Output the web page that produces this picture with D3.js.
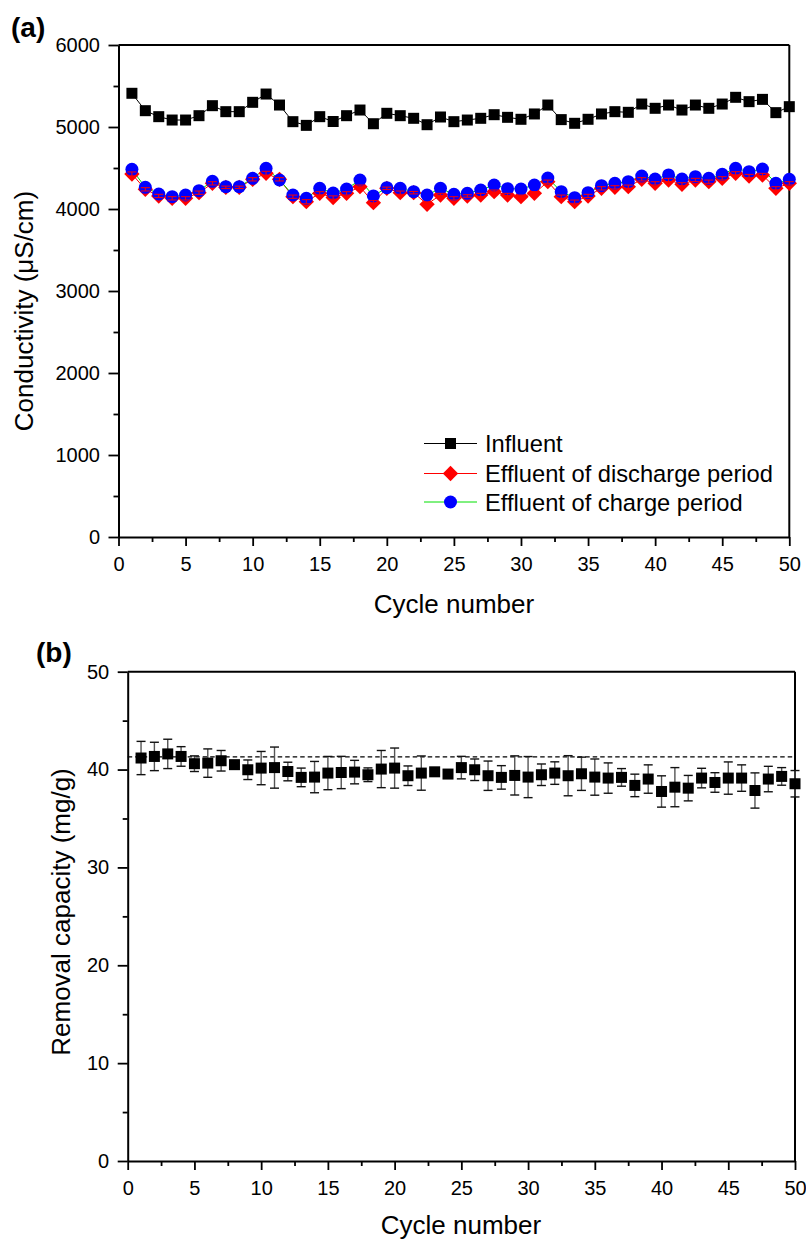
<!DOCTYPE html>
<html><head><meta charset="utf-8">
<script src="https://cdn.jsdelivr.net/npm/d3@7"></script>
<style>body{margin:0;background:#fff;} svg{display:block;font-family:"Liberation Sans",Arial,sans-serif;}</style>
</head><body>
<svg id="c" width="806" height="1245"></svg>
<script>
// ---- Data ----
const cycles = d3.range(1, 51);
const influent = [5411,5199,5126,5085,5085,5138,5260,5187,5187,5301,
                  5402,5268,5065,5020,5126,5067,5138,5207,5040,5167,
                  5138,5106,5028,5122,5065,5085,5106,5150,5118,5094,
                  5159,5268,5090,5045,5094,5159,5187,5179,5280,5228,
                  5268,5207,5268,5228,5280,5362,5309,5337,5175,5248];
const discharge = [4427,4240,4159,4130,4130,4199,4313,4264,4264,4362,
                   4435,4362,4150,4089,4191,4140,4191,4272,4077,4252,
                   4199,4199,4057,4171,4130,4159,4171,4211,4171,4150,
                   4191,4333,4150,4089,4159,4252,4264,4272,4362,4313,
                   4354,4301,4354,4333,4374,4435,4402,4415,4252,4313];
const dischargeErr = [25,20,20,20,20,20,20,15,15,20,
                      25,20,20,25,20,20,20,20,25,15,
                      20,15,25,20,20,15,20,20,20,20,
                      20,20,20,20,20,20,20,20,20,20,
                      20,20,20,20,20,20,20,20,20,20];
const charge = [4484,4264,4183,4150,4171,4224,4337,4272,4272,4374,
                4496,4354,4171,4130,4252,4195,4244,4354,4159,4260,
                4252,4211,4171,4252,4179,4191,4232,4293,4248,4244,
                4293,4378,4211,4138,4199,4285,4313,4333,4402,4366,
                4415,4366,4394,4374,4423,4496,4455,4488,4313,4362];
const capacity = [41.18,41.34,41.6,41.34,40.6,40.66,40.9,40.5,39.98,40.15,
                  40.2,39.8,39.2,39.23,39.64,39.7,39.74,39.47,40.05,40.15,
                  39.37,39.64,39.77,39.54,40.2,39.98,39.37,39.2,39.4,39.23,
                  39.47,39.64,39.37,39.57,39.23,39.13,39.2,38.38,39.03,37.76,
                  38.2,38.1,39.13,38.68,39.13,39.13,37.86,39.03,39.3,38.55];
const capacityErr = [1.7,1.45,1.5,1.0,0.8,1.45,1.05,0.3,1.0,1.7,
                     2.1,0.95,0.95,1.6,1.7,1.65,1.2,0.7,1.9,2.05,
                     1.0,1.75,0.3,0.3,1.15,1.1,1.5,1.2,2.0,2.1,
                     1.1,1.15,2.05,1.7,1.85,1.55,0.9,1.15,1.45,1.6,
                     2.0,1.3,1.0,1.0,1.65,1.35,1.8,1.3,0.9,1.35];
const refLine = 41.3;
const xTicks = [0,5,10,15,20,25,30,35,40,45,50];
const yTicksA = [0,1000,2000,3000,4000,5000,6000];
const yTicksB = [0,10,20,30,40,50];
const legendLabels = ["Influent","Effluent of discharge period","Effluent of charge period"];

const svg = d3.select("#c");
const fmt = d3.format("d");

function frame(g, x, y, xT, yT, xMinor, yMinor, labelPadY){
  const [x0,x1] = x.range(), [y0,y1] = y.range();
  g.append("g").attr("transform",`translate(0,${y0})`)
    .call(d3.axisBottom(x).tickValues(xT).tickFormat(fmt).tickSize(9).tickPadding(labelPadY).tickSizeOuter(0));
  g.append("g").attr("transform",`translate(0,${y0})`)
    .call(d3.axisBottom(x).tickValues(xMinor).tickSize(5).tickFormat("").tickSizeOuter(0))
    .select(".domain").remove();
  g.append("g").attr("transform",`translate(${x0},0)`)
    .call(d3.axisLeft(y).tickValues(yT).tickFormat(fmt).tickSize(10).tickPadding(8.5).tickSizeOuter(0));
  g.append("g").attr("transform",`translate(${x0},0)`)
    .call(d3.axisLeft(y).tickValues(yMinor).tickSize(5).tickFormat("").tickSizeOuter(0))
    .select(".domain").remove();
  g.selectAll(".domain").attr("stroke","#000").attr("stroke-width",2);
  g.selectAll(".tick line").attr("stroke","#000").attr("stroke-width",1.8);
  g.selectAll(".tick text").attr("font-size",20).attr("fill","#000")
    .attr("font-family",'"Liberation Sans",Arial,sans-serif');
  g.append("line").attr("x1",x0).attr("x2",x1).attr("y1",y1).attr("y2",y1).attr("stroke","#000").attr("stroke-width",2);
  g.append("line").attr("x1",x1).attr("x2",x1).attr("y1",y1).attr("y2",y0).attr("stroke","#000").attr("stroke-width",2);
}
const minorX = d3.range(2.5, 50, 5);

// ---- Panel (a) ----
const xA = d3.scaleLinear().domain([0,50]).range([118.5,789.3]);
const yA = d3.scaleLinear().domain([0,6000]).range([537,45]);
const gA = svg.append("g");
frame(gA, xA, yA, xTicks, yTicksA, minorX, d3.range(500,6000,1000), 11);

const line = (arr, xs, ys) => d3.line().x((d,i)=>xs(cycles[i])).y(d=>ys(d))(arr);
gA.append("path").attr("d",line(influent,xA,yA)).attr("fill","none").attr("stroke","#000").attr("stroke-width",1);
gA.append("path").attr("d",line(discharge,xA,yA)).attr("fill","none").attr("stroke","#ff0000").attr("stroke-width",1);
gA.append("path").attr("d",line(charge,xA,yA)).attr("fill","none").attr("stroke","#00e000").attr("stroke-width",1);

const sq = 11;
gA.selectAll(".inf").data(influent).enter().append("rect")
  .attr("x",(d,i)=>xA(cycles[i])-sq/2).attr("y",d=>yA(d)-sq/2).attr("width",sq).attr("height",sq).attr("fill","#000");
const diamond = d3.symbol().type(d3.symbolDiamond2).size(150);
gA.selectAll(".dis").data(discharge).enter().append("path")
  .attr("d",diamond).attr("transform",(d,i)=>`translate(${xA(cycles[i])},${yA(d)})`).attr("fill","#ff0000");
gA.selectAll(".chg").data(charge).enter().append("circle")
  .attr("cx",(d,i)=>xA(cycles[i])).attr("cy",d=>yA(d)).attr("r",6.5).attr("fill","#0000ff");
const eb = gA.append("g").attr("stroke","#ff0000").attr("stroke-width",1);
discharge.forEach((d,i)=>{
  const cx = xA(cycles[i]), t = yA(d+dischargeErr[i]), b = yA(d-dischargeErr[i]);
  eb.append("line").attr("x1",cx).attr("x2",cx).attr("y1",t).attr("y2",b);
  eb.append("line").attr("x1",cx-4.5).attr("x2",cx+4.5).attr("y1",t).attr("y2",t);
  eb.append("line").attr("x1",cx-4.5).attr("x2",cx+4.5).attr("y1",b).attr("y2",b);
});

// legend
const legY = [443.5, 473.5, 502];
const legCol = ["#000","#ff0000","#00e000"];
const leg = gA.append("g");
legendLabels.forEach((lab,i)=>{
  leg.append("line").attr("x1",424).attr("x2",477).attr("y1",legY[i]).attr("y2",legY[i]).attr("stroke",legCol[i]).attr("stroke-width",1);
  if(i===0) leg.append("rect").attr("x",450.5-5.5).attr("y",legY[i]-5.5).attr("width",11).attr("height",11).attr("fill","#000");
  if(i===1) leg.append("path").attr("d",diamond).attr("transform",`translate(450.5,${legY[i]})`).attr("fill","#ff0000");
  if(i===2) leg.append("circle").attr("cx",450.5).attr("cy",legY[i]).attr("r",6.5).attr("fill","#0000ff");
  leg.append("text").attr("x",485).attr("y",legY[i]+8.5).attr("font-size",23.7).text(lab);
});

gA.append("text").attr("transform","translate(33,311) rotate(-90)").attr("text-anchor","middle")
  .attr("font-size",26).text("Conductivity (\u03BCS/cm)");
gA.append("text").attr("x",454).attr("y",613).attr("text-anchor","middle").attr("font-size",26).text("Cycle number");
gA.append("text").attr("x",11).attr("y",37).attr("font-size",28).attr("font-weight","bold").text("(a)");

// ---- Panel (b) ----
const xB = d3.scaleLinear().domain([0,50]).range([127.7,795]);
const yB = d3.scaleLinear().domain([0,50]).range([1161,671.7]);
const gB = svg.append("g");
frame(gB, xB, yB, xTicks, yTicksB, minorX, d3.range(5,50,10), 11);

gB.append("line").attr("x1",xB(0)).attr("x2",xB(50)).attr("y1",yB(refLine)).attr("y2",yB(refLine))
  .attr("stroke","#000").attr("stroke-width",1.2).attr("stroke-dasharray","4.5,3");

const eb2 = gB.append("g");
capacity.forEach((d,i)=>{
  const cx = xB(cycles[i]), t = yB(d+capacityErr[i]), b = yB(d-capacityErr[i]);
  eb2.append("line").attr("x1",cx).attr("x2",cx).attr("y1",t).attr("y2",b).attr("stroke","#555").attr("stroke-width",1.4);
  eb2.append("line").attr("x1",cx-4.5).attr("x2",cx+4.5).attr("y1",t).attr("y2",t).attr("stroke","#111").attr("stroke-width",1.4);
  eb2.append("line").attr("x1",cx-4.5).attr("x2",cx+4.5).attr("y1",b).attr("y2",b).attr("stroke","#111").attr("stroke-width",1.4);
});
gB.selectAll(".cap").data(capacity).enter().append("rect")
  .attr("x",(d,i)=>xB(cycles[i])-sq/2).attr("y",d=>yB(d)-sq/2).attr("width",sq).attr("height",sq).attr("fill","#000");

gB.append("text").attr("transform","translate(70,912) rotate(-90)").attr("text-anchor","middle")
  .attr("font-size",26).text("Removal capacity (mg/g)");
gB.append("text").attr("x",461).attr("y",1234).attr("text-anchor","middle").attr("font-size",26).text("Cycle number");
gB.append("text").attr("x",36).attr("y",662).attr("font-size",28).attr("font-weight","bold").text("(b)");
</script>
</body></html>
